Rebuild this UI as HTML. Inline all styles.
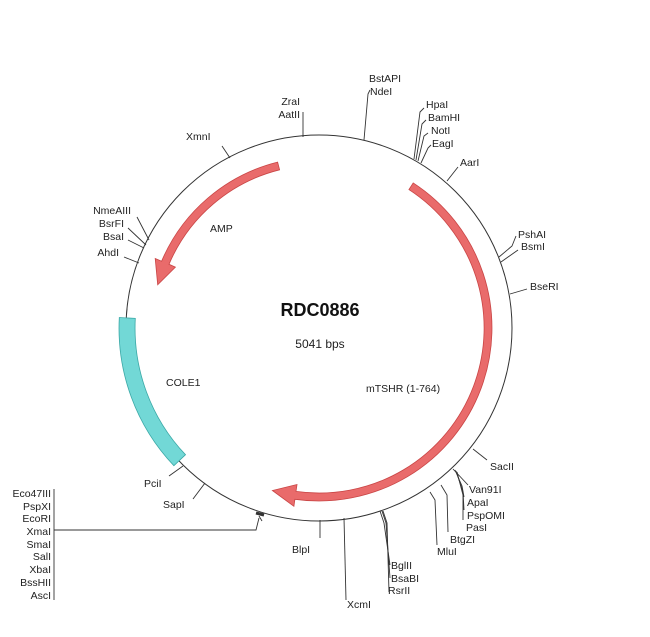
<!DOCTYPE html>
<html><head><meta charset="utf-8"><style>
body{margin:0;background:#fff;}
svg{display:block;}
text{font-family:"Liberation Sans",sans-serif;font-size:10.5px;fill:#222;}
</style></head><body>
<svg width="650" height="637" viewBox="0 0 650 637" xmlns="http://www.w3.org/2000/svg">
<circle cx="319" cy="328" r="193" fill="none" stroke="#333" stroke-width="1"/>
<!-- COLE1 -->
<path d="M119.3,317.5 A200,200 0 0 0 173.9,465.7 L185.5,454.7 A184,184 0 0 1 135.3,318.4 Z" fill="#72d8d6" stroke="#3aa8a6" stroke-width="0.8"/>
<!-- mTSHR -->
<path d="M413.2,182.9 A173,173 0 0 1 294.9,499.3 L293.9,506.3 L272.4,490.5 L297.0,484.5 L296.0,491.4 A165,165 0 0 0 408.9,189.6 Z" fill="#e96b6b" stroke="#c94545" stroke-width="0.8"/>
<!-- AMP -->
<path d="M277.6,162.1 A171,171 0 0 0 161.6,261.2 L155.2,258.5 L157.7,284.8 L175.4,267.1 L169.0,264.3 A163,163 0 0 1 279.6,169.8 Z" fill="#e96b6b" stroke="#c94545" stroke-width="0.8"/>

<text x="320" y="316" text-anchor="middle" style="font-size:18px;font-weight:bold;fill:#111">RDC0886</text>
<text x="320" y="348" text-anchor="middle" style="font-size:12px">5041 bps</text>
<text x="210" y="232">AMP</text>
<text x="166" y="386">COLE1</text>
<text x="366" y="392">mTSHR (1-764)</text>

<g stroke="#333" stroke-width="0.9" fill="none">
<line x1="230" y1="158" x2="222" y2="146"/>
<line x1="303" y1="137" x2="303" y2="112"/>
<polyline points="364,140 368,94 370,90"/>
<polyline points="414,159 420,112 424,108"/>
<polyline points="416,160 422,124 426,120"/>
<polyline points="418,161 424,136 428,133"/>
<polyline points="421,163 428,148 431,145"/>
<line x1="447" y1="181" x2="458" y2="167"/>
<polyline points="499,257 512,246 516,236"/>
<polyline points="501,262 518,250"/>
<line x1="510" y1="294" x2="527" y2="289"/>
<line x1="473" y1="449" x2="487" y2="460"/>
<polyline points="453,469 468,485"/>
<polyline points="455,470 462,486 464,497"/>
<polyline points="456,471 463,492 464,510"/>
<polyline points="457,472 463,495 463,520"/>
<polyline points="441,485 447,495 448,532"/>
<polyline points="430,492 435,500 437,545"/>
<polyline points="380,511 384,523 390,565"/>
<polyline points="382,511 386,523 390,578"/>
<polyline points="383,511 387,523 389,592"/>
<line x1="344" y1="518" x2="346" y2="600"/>
<line x1="320" y1="520" x2="320" y2="538"/>
<line x1="205" y1="483" x2="193" y2="499"/>
<line x1="183" y1="466" x2="169" y2="476"/>
<line x1="149" y1="240" x2="137" y2="217"/>
<line x1="146" y1="245" x2="128" y2="228"/>
<line x1="144" y1="248" x2="128" y2="240"/>
<line x1="139" y1="263" x2="124" y2="257"/>
<line x1="54" y1="489" x2="54" y2="600"/>
<polyline points="54,530 256,530 259,518"/>
<line x1="256" y1="513" x2="264" y2="515" stroke-width="3"/>
<line x1="259" y1="516" x2="262" y2="521"/>
</g>

<text x="186" y="140">XmnI</text>
<text x="300" y="105" text-anchor="end">ZraI</text>
<text x="300" y="118" text-anchor="end">AatII</text>
<text x="369" y="82">BstAPI</text>
<text x="370" y="95">NdeI</text>
<text x="426" y="108">HpaI</text>
<text x="428" y="121">BamHI</text>
<text x="431" y="134">NotI</text>
<text x="432" y="147">EagI</text>
<text x="460" y="166">AarI</text>
<text x="518" y="238">PshAI</text>
<text x="521" y="250">BsmI</text>
<text x="530" y="290">BseRI</text>
<text x="490" y="470">SacII</text>
<text x="469" y="493">Van91I</text>
<text x="467" y="506">ApaI</text>
<text x="467" y="519">PspOMI</text>
<text x="466" y="531">PasI</text>
<text x="450" y="543">BtgZI</text>
<text x="437" y="555">MluI</text>
<text x="391" y="569">BglII</text>
<text x="391" y="582">BsaBI</text>
<text x="388" y="594">RsrII</text>
<text x="347" y="608">XcmI</text>
<text x="292" y="553">BlpI</text>
<text x="163" y="508">SapI</text>
<text x="144" y="487">PciI</text>
<text x="131" y="214" text-anchor="end">NmeAIII</text>
<text x="124" y="227" text-anchor="end">BsrFI</text>
<text x="124" y="240" text-anchor="end">BsaI</text>
<text x="119" y="256" text-anchor="end">AhdI</text>
<text x="51" y="497" text-anchor="end">Eco47III</text>
<text x="51" y="510" text-anchor="end">PspXI</text>
<text x="51" y="522" text-anchor="end">EcoRI</text>
<text x="51" y="535" text-anchor="end">XmaI</text>
<text x="51" y="548" text-anchor="end">SmaI</text>
<text x="51" y="560" text-anchor="end">SalI</text>
<text x="51" y="573" text-anchor="end">XbaI</text>
<text x="51" y="586" text-anchor="end">BssHII</text>
<text x="51" y="599" text-anchor="end">AscI</text>
</svg>
</body></html>
